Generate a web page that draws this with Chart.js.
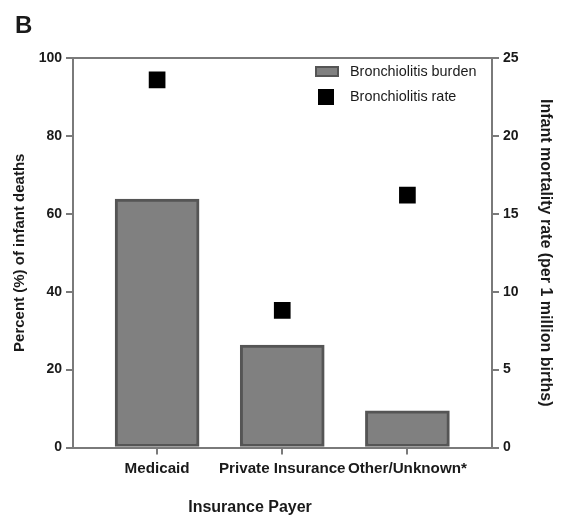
<!DOCTYPE html>
<html>
<head>
<meta charset="utf-8">
<script src="https://cdn.jsdelivr.net/npm/chart.js@4/dist/chart.umd.min.js"></script>
<style>
  html, body { margin: 0; padding: 0; background: #fff; }
  #wrap { width: 565px; height: 523px; }
</style>
</head>
<body>
<div id="wrap"><canvas id="c" width="565" height="523"></canvas></div>
<script>
// Insurance payer groups and the two measures plotted for each
const categories = ['Medicaid', 'Private Insurance', 'Other/Unknown*'];
const burdenPercent = [63.8, 26.3, 9.4];      // left axis, % of infant deaths
const mortalityRate = [23.6, 8.8, 16.2];      // right axis, per 1 million births
const leftTicks = [0, 20, 40, 60, 80, 100];
const rightTicks = [0, 5, 10, 15, 20, 25];

const FONT = "'Liberation Sans', Arial, sans-serif";
const INK = '#1a1a1a';
const AXIS = '#7a7a7a';

// Panel letter, x-axis title, top frame line and legend
const decorations = {
  id: 'decorations',
  afterDraw(chart) {
    const ctx = chart.ctx;
    const a = chart.chartArea;
    ctx.save();
    // top frame line
    ctx.strokeStyle = AXIS;
    ctx.lineWidth = 2;
    ctx.beginPath();
    ctx.moveTo(a.left - 1, a.top);
    ctx.lineTo(a.right + 1, a.top);
    ctx.stroke();

    // panel letter
    ctx.fillStyle = INK;
    ctx.font = 'bold 24px ' + FONT;
    ctx.textBaseline = 'alphabetic';
    ctx.textAlign = 'left';
    ctx.fillText('B', 15, 33);

    // x-axis title
    ctx.font = 'bold 16px ' + FONT;
    ctx.textAlign = 'center';
    ctx.textBaseline = 'middle';
    ctx.fillText('Insurance Payer', 250, 508);

    // legend
    const ds = chart.data.datasets;
    const lx = a.right - 177;
    ctx.fillStyle = ds[0].backgroundColor;
    ctx.fillRect(lx, a.top + 8, 24, 11);
    ctx.strokeStyle = ds[0].borderColor;
    ctx.lineWidth = 2;
    ctx.strokeRect(lx + 1, a.top + 9, 22, 9);
    ctx.fillStyle = ds[1].backgroundColor;
    ctx.fillRect(lx + 3, a.top + 31, 16, 16);

    ctx.fillStyle = INK;
    ctx.font = '14.4px ' + FONT;
    ctx.textAlign = 'left';
    ctx.textBaseline = 'middle';
    ctx.fillText(ds[0].label, lx + 35, a.top + 14);
    ctx.fillText(ds[1].label, lx + 35, a.top + 39);
    ctx.restore();
  }
};

const tickFont = { family: FONT, size: 14, weight: 'bold' };

new Chart(document.getElementById('c'), {
  type: 'bar',
  data: {
    datasets: [
      {
        type: 'bar',
        label: 'Bronchiolitis burden',
        data: categories.map((c, i) => ({ x: i, y: burdenPercent[i] })),
        backgroundColor: '#808080',
        borderColor: '#555555',
        borderWidth: 3,
        borderSkipped: false,
        barThickness: 84,
        yAxisID: 'y',
        xAxisID: 'x',
        order: 2
      },
      {
        type: 'scatter',
        label: 'Bronchiolitis rate',
        data: categories.map((c, i) => ({ x: i, y: mortalityRate[i] })),
        backgroundColor: '#000000',
        borderColor: '#000000',
        borderWidth: 0,
        pointStyle: 'rect',
        pointRadius: 11.8,
        pointHoverRadius: 11.8,
        yAxisID: 'y2',
        xAxisID: 'x',
        order: 1
      }
    ]
  },
  options: {
    responsive: false,
    animation: false,
    layout: { padding: { top: 58, left: 0, right: 0, bottom: 0 } },
    plugins: {
      legend: { display: false },
      tooltip: { enabled: false },
      title: { display: false }
    },
    scales: {
      x: {
        type: 'linear',
        position: 'bottom',
        offset: false,
        min: -0.672,
        max: 2.676,
        afterFit(s) { s.height = 75.5; },
        afterBuildTicks(s) { s.ticks = categories.map((c, i) => ({ value: i })); },
        ticks: {
          includeBounds: false,
          autoSkip: false,
          maxRotation: 0,
          padding: 5,
          color: INK,
          font: { family: FONT, size: 15.2, weight: 'bold' },
          callback: (v) => categories[v] ?? ''
        },
        grid: { offset: false, drawOnChartArea: false, drawTicks: true, tickLength: 7, color: AXIS, lineWidth: 2 },
        border: { display: true, color: AXIS, width: 2 }
      },
      y: {
        type: 'linear',
        position: 'left',
        min: 0,
        max: 100,
        afterFit(s) { s.width = 73; },
        afterBuildTicks(s) { s.ticks = leftTicks.map(v => ({ value: v })); },
        ticks: { padding: 4, color: INK, font: tickFont },
        grid: { drawOnChartArea: false, drawTicks: true, tickLength: 7, color: AXIS, lineWidth: 2 },
        border: { display: true, color: AXIS, width: 2 },
        title: {
          display: true,
          text: 'Percent (%) of infant deaths',
          color: INK,
          font: { family: FONT, size: 15, weight: 'bold' },
          padding: { top: 11, bottom: 0 }
        }
      },
      y2: {
        type: 'linear',
        position: 'right',
        min: 0,
        max: 25,
        afterFit(s) { s.width = 73; },
        afterBuildTicks(s) { s.ticks = rightTicks.map(v => ({ value: v })); },
        ticks: { padding: 4, color: INK, font: tickFont },
        grid: { drawOnChartArea: false, drawTicks: true, tickLength: 7, color: AXIS, lineWidth: 2 },
        border: { display: true, color: AXIS, width: 2 },
        title: {
          display: true,
          text: 'Infant mortality rate (per 1 million births)',
          color: INK,
          font: { family: FONT, size: 16, weight: 'bold' },
          padding: { top: 10, bottom: 0 }
        }
      }
    }
  },
  plugins: [decorations]
});
</script>
</body>
</html>
